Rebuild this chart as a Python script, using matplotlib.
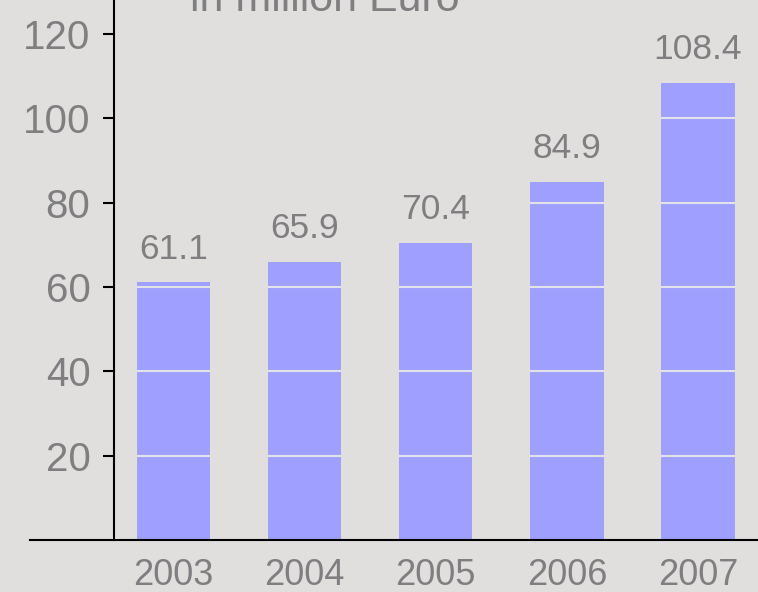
import numpy as np
import matplotlib.pyplot as plt

plt.rcParams['font.family'] = ['Liberation Sans', 'DejaVu Sans']

years = ['2003', '2004', '2005', '2006', '2007']
values = [61.1, 65.9, 70.4, 84.9, 108.4]
yticks = [20, 40, 60, 80, 100, 120]

bg = '#e0dfdd'
bar_color = '#9f9fff'
text_color = '#7f7e80'
bar_width = 0.56

fig = plt.figure(figsize=(7.58, 5.92), dpi=100)
fig.patch.set_facecolor(bg)
ax = fig.add_axes([30 / 758, 52 / 592, 728 / 758, 540 / 592])
ax.set_facecolor(bg)

x = np.arange(len(years))
ax.bar(x, values, width=bar_width, color=bar_color, zorder=2)

# light grid lines only show on the bars
for xi, v in zip(x, values):
    levels = [t for t in yticks if t < v]
    ax.hlines(levels, xi - bar_width / 2, xi + bar_width / 2,
              color='#e2e2ea', lw=1.5, zorder=3)

for xi, v in zip(x, values):
    ax.annotate(f'{v:.1f}', (xi, v), xytext=(0, 12), textcoords='offset points',
                ha='center', va='bottom', fontsize=25.5, color=text_color)

ax.set_xlim(-1.095, 4.458)
ax.set_ylim(0, 128)
ax.set_xticks(x)
ax.set_xticklabels(years)
ax.set_yticks(yticks)
ax.tick_params(axis='x', length=0, pad=13, labelsize=26, labelcolor=text_color)
ax.tick_params(axis='y', length=8, width=1.5, pad=9, labelsize=29, labelcolor=text_color)

for s in ['top', 'right']:
    ax.spines[s].set_visible(False)
ax.spines['left'].set_position(('data', -0.454))
ax.spines['left'].set_linewidth(1.5)
ax.spines['bottom'].set_linewidth(1.5)

fig.text(325 / 758, 1 - 11 / 592, 'in million Euro', ha='center', va='baseline',
         fontsize=31, color=text_color)

fig.savefig('out.png', dpi=100, facecolor=bg)
